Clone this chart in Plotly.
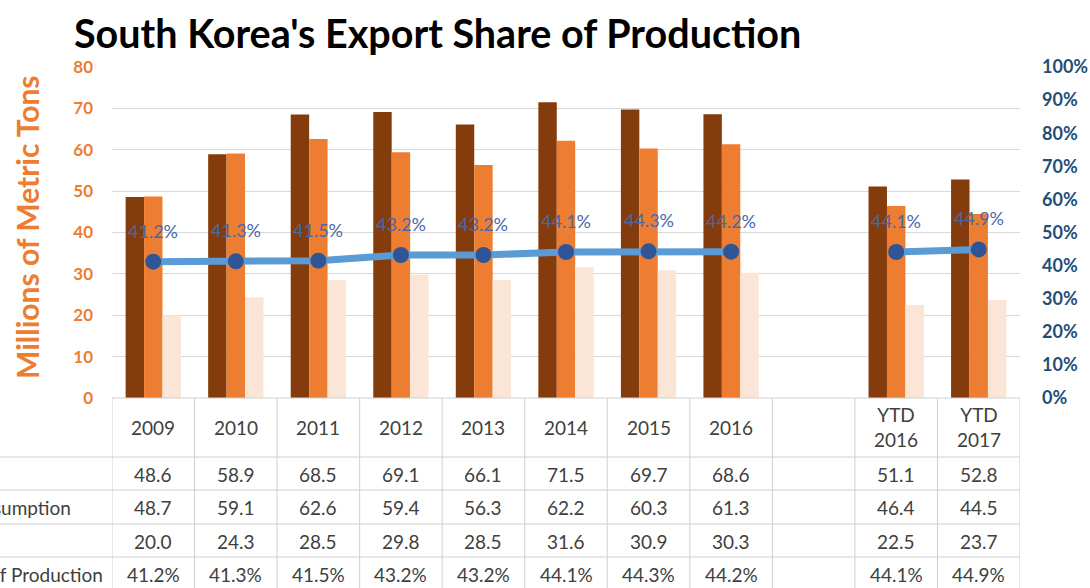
import plotly.graph_objects as go

# ---- data ----
categories = ["2009", "2010", "2011", "2012", "2013", "2014", "2015", "2016", "gap", "YTD 2016", "YTD 2017"]
header_labels = ["2009", "2010", "2011", "2012", "2013", "2014", "2015", "2016", "", "YTD<br>2016", "YTD<br>2017"]
production = [48.6, 58.9, 68.5, 69.1, 66.1, 71.5, 69.7, 68.6, None, 51.1, 52.8]
consumption = [48.7, 59.1, 62.6, 59.4, 56.3, 62.2, 60.3, 61.3, None, 46.4, 44.5]
exports = [20.0, 24.3, 28.5, 29.8, 28.5, 31.6, 30.9, 30.3, None, 22.5, 23.7]
share_pct = [41.2, 41.3, 41.5, 43.2, 43.2, 44.1, 44.3, 44.2, None, 44.1, 44.9]

# ---- page geometry (pixels) ----
W, H = 1090, 588
L, R, T, B = 112, 70, 67, 190
PW, PH = W - L - R, H - T - B


def xp(px):
    return (px - L) / PW


def yp(py):
    return (H - B - py) / PH


FONT = "Lato, 'Open Sans', sans-serif"
TXT = "#404040"
GRID = "#D9D9D9"
TABLE_LINE = "#D0D0D0"

fig = go.Figure()

bar_colors = ["#843C0C", "#ED7D31", "#FBE5D6"]
for name, vals, col in zip(["Production", "Consumption", "Exports"],
                           [production, consumption, exports], bar_colors):
    fig.add_trace(go.Bar(x=categories, y=vals, name=name, marker_color=col,
                         marker_line_width=0, hoverinfo="skip"))

share = [v / 100 if v is not None else None for v in share_pct]
fig.add_trace(go.Scatter(
    x=categories, y=share, yaxis="y2", mode="lines+markers",
    connectgaps=False, name="Export Share of Production",
    line=dict(color="#5B9BD5", width=7),
    marker=dict(color="#2F5597", size=16, line=dict(width=0)),
    hoverinfo="skip"))

annotations = []

# data labels above the share line (category index positions)
for i, (v, p) in enumerate(zip(share, share_pct)):
    if v is None:
        continue
    annotations.append(dict(x=i, y=v, xref="x", yref="y2", text=f"{p:.1f}%",
                            showarrow=False, yshift=31, xanchor="center", yanchor="middle",
                            font=dict(family=FONT, size=18, color="#4868A8")))

# data table below the chart
row_centers = [474, 507, 541, 574]
rows = [production, consumption, exports, share_pct]
cell_font = dict(family=FONT, size=19, color=TXT)
for i, hl in enumerate(header_labels):
    if hl:
        annotations.append(dict(x=i, y=yp(427), xref="x", yref="paper", text=hl,
                                xanchor="center", yanchor="middle",
                                showarrow=False, font=cell_font))
for ri, (vals, yc) in enumerate(zip(rows, row_centers)):
    for i, v in enumerate(vals):
        if v is None:
            continue
        txt = f"{v:.1f}%" if ri == 3 else f"{v:.1f}"
        annotations.append(dict(x=i, y=yp(yc), xref="x", yref="paper", text=txt,
                                xanchor="center", yanchor="middle",
                                showarrow=False, font=cell_font))

# row captions (label column runs past the left edge)
for label, right_px, yc in [("Consumption", 73, 507), ("Exports Share of Production", 105, 574)]:
    annotations.append(dict(x=xp(right_px), y=yp(yc), xref="paper", yref="paper", text=label,
                            xanchor="right", yanchor="middle", showarrow=False,
                            font=cell_font))

# title and axis title
annotations.append(dict(x=xp(72), y=yp(32), xref="paper", yref="paper",
                        text="South Korea's Export Share of Production",
                        xanchor="left", yanchor="middle", showarrow=False,
                        font=dict(family=FONT, size=39.5, color="#000000", weight="bold")))
annotations.append(dict(x=xp(27), y=yp(227), xref="paper", yref="paper",
                        text="Millions of Metric Tons", textangle=-90, showarrow=False,
                        xanchor="center", yanchor="middle",
                        font=dict(family=FONT, size=30, color="#ED7D31", weight="bold")))

# table grid lines
shapes = []
n = len(categories)
for i in range(n + 1):
    shapes.append(dict(type="line", xref="x", yref="paper", x0=i - 0.5, x1=i - 0.5,
                       y0=yp(398), y1=yp(H + 5), line=dict(color=TABLE_LINE, width=1)))
shapes.append(dict(type="line", xref="paper", yref="paper", x0=0, x1=1, y0=0, y1=0,
                   line=dict(color=TABLE_LINE, width=1)))
for py in [457, 490, 524, 557]:
    shapes.append(dict(type="line", xref="paper", yref="paper", x0=xp(-5), x1=1,
                       y0=yp(py), y1=yp(py), line=dict(color=TABLE_LINE, width=1)))

fig.update_layout(
    width=W, height=H,
    margin=dict(l=L, r=R, t=T, b=B, autoexpand=False),
    paper_bgcolor="white", plot_bgcolor="white",
    barmode="group", bargap=0.33, bargroupgap=0,
    showlegend=False,
    xaxis=dict(type="category", range=[-0.5, n - 0.5], showticklabels=False,
               showgrid=False, zeroline=False, showline=False, ticks="", automargin=False),
    yaxis=dict(range=[0, 80], dtick=10, showgrid=True, gridcolor=GRID, gridwidth=1,
               zeroline=False, showline=False, ticks="", ticklabelstandoff=18, automargin=False,
               tickfont=dict(family=FONT, size=17, color="#ED7D31", weight="bold")),
    yaxis2=dict(range=[0, 1], dtick=0.1, tickformat=".0%", overlaying="y", side="right",
                showgrid=False, zeroline=False, showline=False, ticks="", ticklabelstandoff=21,
                automargin=False,
                tickfont=dict(family=FONT, size=18, color="#1F4E79", weight="bold")),
    annotations=annotations,
    shapes=shapes,
)

fig.write_html("out.html")
